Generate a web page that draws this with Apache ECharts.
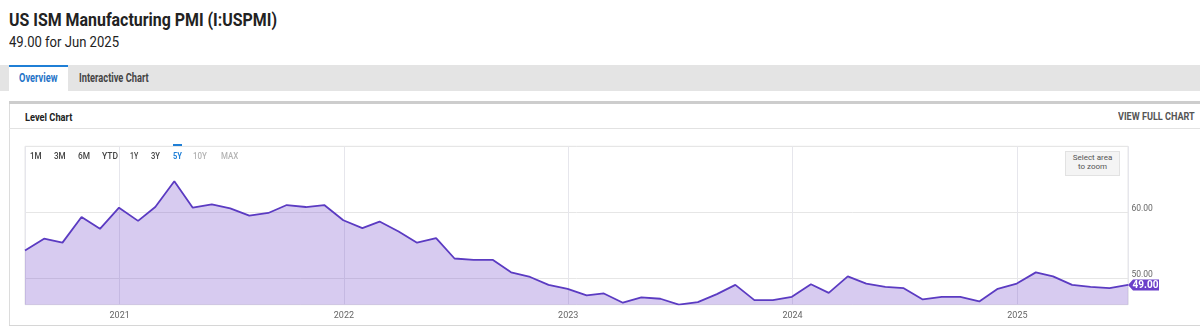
<!DOCTYPE html>
<html><head><meta charset="utf-8">
<script src="https://cdn.jsdelivr.net/npm/echarts@6/dist/echarts.min.js"></script>
<style>
html,body{margin:0;padding:0;width:1200px;height:327px;overflow:hidden;background:#fff;font-family:Roboto,'Noto Sans',sans-serif;}
.a{position:absolute;white-space:nowrap;z-index:2;}
.t{transform-origin:0 50%;}
.r{font-size:9.5px;line-height:12px;top:150px;font-weight:500;}
</style></head><body>
<!-- page header -->
<div class="a t" data-w="268" style="left:9px;top:8.4px;font-size:18.5px;line-height:24px;font-weight:700;color:#222">US ISM Manufacturing PMI (I:USPMI)</div>
<div class="a t" data-w="110" style="left:9px;top:31.6px;font-size:15px;line-height:20px;color:#222">49.00 for Jun 2025</div>
<!-- tabs -->
<div class="a" style="left:0;top:65px;width:1200px;height:26px;background:#e4e4e4;z-index:1"></div>
<div class="a" style="left:9px;top:65px;width:59px;height:26px;background:#fff;border-top:2.7px solid #1f7fd6;box-sizing:border-box;z-index:1"></div>
<div class="a t" data-w="38.5" style="left:19.3px;top:70.6px;font-size:12px;line-height:14px;font-weight:700;color:#1f74c8">Overview</div>
<div class="a t" data-w="69.7" style="left:79px;top:70.6px;font-size:12px;line-height:14px;font-weight:700;color:#444">Interactive Chart</div>
<!-- panel -->
<div class="a" style="left:9px;top:101px;width:1191px;height:3px;background:#cdcdcd"></div>
<div class="a" style="left:9px;top:104px;width:1px;height:222px;background:#dcdcdc"></div>
<div class="a" style="left:9px;top:128px;width:1191px;height:1px;background:#e2e2e2"></div>
<div class="a" style="left:9px;top:325px;width:1191px;height:1px;background:#d6d6d6"></div>
<div class="a t" data-w="47.3" style="left:25px;top:109.8px;font-size:11.5px;line-height:14px;font-weight:700;color:#222">Level Chart</div>
<div class="a t" data-w="76.7" style="left:1118.3px;top:110.2px;font-size:11px;line-height:14px;font-weight:700;color:#555">VIEW FULL CHART</div>
<!-- range selector -->
<div class="a t r" data-w="11.7" style="left:30px;color:#444">1M</div>
<div class="a t r" data-w="11.7" style="left:54px;color:#444">3M</div>
<div class="a t r" data-w="12" style="left:78px;color:#444">6M</div>
<div class="a t r" data-w="16" style="left:101.7px;color:#444">YTD</div>
<div class="a t r" data-w="8.3" style="left:129.7px;color:#444">1Y</div>
<div class="a t r" data-w="9" style="left:150.5px;color:#444">3Y</div>
<div class="a" style="left:173px;top:144px;width:9px;height:2px;background:#1f7fd6"></div>
<div class="a t r" data-w="9" style="left:173px;color:#1f7fd6;font-weight:700">5Y</div>
<div class="a t r" data-w="14" style="left:193px;color:#b4b4b4">10Y</div>
<div class="a t r" data-w="17.3" style="left:220.7px;color:#b4b4b4">MAX</div>
<!-- zoom hint -->
<div class="a" style="left:1065px;top:151px;width:55px;height:25px;background:#f4f4f4;border:1px solid #e2e2e2;box-sizing:border-box"></div>
<div class="a" style="left:1065px;top:153px;width:55px;text-align:center;font-size:8px;line-height:9.3px;color:#555">Select area<br>to zoom</div>

<div id="chart" style="position:absolute;left:0;top:130px;width:1200px;height:197px;z-index:0"></div>
<script>
// month-end dates of each observation
const dates = [
 '2020-07-31','2020-08-31','2020-09-30','2020-10-31','2020-11-30','2020-12-31',
 '2021-01-31','2021-02-28','2021-03-31','2021-04-30','2021-05-31','2021-06-30',
 '2021-07-31','2021-08-31','2021-09-30','2021-10-31','2021-11-30','2021-12-31',
 '2022-01-31','2022-02-28','2022-03-31','2022-04-30','2022-05-31','2022-06-30',
 '2022-07-31','2022-08-31','2022-09-30','2022-10-31','2022-11-30','2022-12-31',
 '2023-01-31','2023-02-28','2023-03-31','2023-04-30','2023-05-31','2023-06-30',
 '2023-07-31','2023-08-31','2023-09-30','2023-10-31','2023-11-30','2023-12-31',
 '2024-01-31','2024-02-29','2024-03-31','2024-04-30','2024-05-31','2024-06-30',
 '2024-07-31','2024-08-31','2024-09-30','2024-10-31','2024-11-30','2024-12-31',
 '2025-01-31','2025-02-28','2025-03-31','2025-04-30','2025-05-31','2025-06-30'
];
const pmi = [
 54.2,56.0,55.4,59.3,57.5,60.7,
 58.7,60.8,64.7,60.7,61.2,60.6,59.5,59.9,61.1,60.8,61.1,58.8,
 57.6,58.6,57.1,55.4,56.1,53.0,52.8,52.8,50.9,50.2,49.0,48.4,
 47.4,47.7,46.3,47.1,46.9,46.0,46.4,47.6,49.0,46.7,46.7,47.2,
 49.1,47.8,50.3,49.2,48.7,48.5,46.8,47.2,47.2,46.5,48.4,49.2,
 50.9,50.3,49.0,48.7,48.5,49.0
];
const yLabels = [50, 60];

// fit header texts to their measured widths (condensed look)
document.querySelectorAll('[data-w]').forEach(el => {
  const w = el.getBoundingClientRect().width;
  const target = parseFloat(el.dataset.w);
  if (w > 0) el.style.transform = 'scaleX(' + (target / w) + ')';
});

const chart = echarts.init(document.getElementById('chart'), null, {renderer: 'canvas'});
const series = dates.map((d, i) => [d, pmi[i]]);
const last = series[series.length - 1];
chart.setOption({
  animation: false,
  grid: {left: 25, right: 72, top: 16.3, bottom: 22.3, show: true, borderColor: '#e6e6e6', borderWidth: 1, containLabel: false, outerBoundsMode: 'none'},
  xAxis: {
    type: 'time', min: dates[0], max: dates[dates.length - 1], splitNumber: 5,
    minInterval: 365 * 24 * 3600 * 1000,
    axisLine: {show: false}, axisTick: {show: false},
    axisLabel: {formatter: '{yyyy}', color: '#666', fontSize: 9, margin: 6.5, showMinLabel: false, showMaxLabel: false, fontFamily: 'Roboto'},
    splitLine: {show: true, lineStyle: {color: '#e6e6ec', width: 1}}
  },
  yAxis: {
    type: 'value', position: 'right', min: 46, max: 70, interval: 2,
    axisLine: {show: false}, axisTick: {show: false},
    axisLabel: {
      formatter: v => yLabels.indexOf(v) >= 0 ? v.toFixed(2) : '',
      color: '#666', fontSize: 8.5, lineHeight: 6, margin: 3.5, verticalAlign: 'bottom', fontFamily: 'Roboto'
    },
    splitLine: {show: true, lineStyle: {color: ['rgba(0,0,0,0)','rgba(0,0,0,0)','#e6e6e6','rgba(0,0,0,0)','rgba(0,0,0,0)'], width: 1}}
  },
  series: [{
    type: 'line', data: series, symbol: 'none', smooth: false,
    lineStyle: {color: '#5b3bc2', width: 1.8},
    itemStyle: {color: '#5b3bc2'},
    areaStyle: {color: '#6a3fc8', opacity: 0.27, origin: 'start'},
    markPoint: {
      silent: true, animation: false,
      symbol: 'path://M0,5.5 L5,0 L31,0 L31,11 L5,11 Z',
      symbolSize: [31, 11], symbolKeepAspect: false,
      symbolOffset: [15.5, 0],
      itemStyle: {color: '#6b3fc9'},
      label: {show: true, position: 'inside', offset: [2, 0.5], color: '#fff', fontWeight: 'bold', fontSize: 10, fontFamily: 'Roboto', formatter: () => last[1].toFixed(2)},
      data: [{coord: last, value: last[1]}]
    }
  }]
});
</script>
</body></html>
